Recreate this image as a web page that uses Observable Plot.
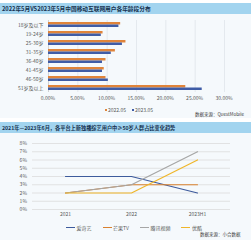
<!DOCTYPE html>
<html><head><meta charset="utf-8">
<script src="https://cdn.jsdelivr.net/npm/d3@7"></script>
<script src="https://cdn.jsdelivr.net/npm/@observablehq/plot@0.6"></script>
<style>
html,body{margin:0;padding:0;background:#fff;}
body{width:251px;height:240px;position:relative;overflow:hidden;font-family:"Noto Sans CJK SC","Noto Sans",sans-serif;}
.panel{position:absolute;left:0;width:251px;background:#f5f9fc;}
.title{position:absolute;left:0;width:251px;height:11px;background:#a2d4ef;color:#16324f;font-weight:bold;line-height:11px;padding-left:2px;box-sizing:border-box;white-space:nowrap;}
.chart{position:absolute;left:0;width:251px;}
.legend{position:absolute;font-size:5px;line-height:7px;color:#595959;display:flex;align-items:center;white-space:nowrap;}
.item{display:flex;align-items:center;}
.src{position:absolute;font-size:4.5px;line-height:6px;color:#404040;white-space:nowrap;}
.tick{position:absolute;font-size:5px;line-height:6px;color:#595959;white-space:nowrap;z-index:5;}
</style></head><body>
<div class="panel" style="top:3px;height:115px"></div>
<div class="panel" style="top:122px;height:118px"></div>
<div class="title" style="top:3px;font-size:5.7px">2022年5月VS2023年5月中国移动互联网用户各年龄段分布</div>
<div class="title" style="top:122px;font-size:5.2px">2021年—2023年6月，各平台上新独播综艺用户中≥50岁人群占比变化趋势</div>
<div id="l1" class="legend" style="top:106px;left:105px"></div>
<div class="src" style="top:111px;left:195px">数据来源：QuestMobile</div>
<div id="l2" class="legend" style="top:224px;left:66px"></div>
<div class="src" style="top:231px;left:200px">数据来源：小合数据</div>
<div id="c1" class="chart" style="top:14px"></div>
<div id="c2" class="chart" style="top:134px"></div>
<div id="ticks"></div>
<script>
// ---- Top chart data ----
const ageGroups = ["18岁及以下","19-24岁","25-30岁","31-35岁","36-40岁","41-45岁","46-50岁","51岁及以上"];
const share2022 = [0.123,0.093,0.132,0.114,0.098,0.095,0.098,0.234];
const share2023 = [0.120,0.090,0.126,0.107,0.092,0.092,0.102,0.262];
const barSeries = ["2022.05","2023.05"];
const barColors = ["#e0843a","#3f5ca6"];
const shareTicks = [0,0.05,0.10,0.15,0.20,0.25,0.30];
const shareTickLabels = ["0.00%","5.00%","10.00%","15.00%","20.00%","25.00%","30.00%"];

// ---- Bottom chart data ----
const periods = ["2021","2022","2023H1"];
const platforms = ["爱奇艺","芒果TV","腾讯视频","优酷"];
const iqiyi = [0.04,0.04,0.02];
const mango = [0.02,0.03,0.03];
const tencent = [0.02,0.03,0.07];
const youku = [0.02,0.02,0.06];
const lineColors = ["#3d5b9c","#d9812f","#a6a6a6","#efb62a"];
const pctTicks = [0,0.01,0.02,0.03,0.04,0.05,0.06,0.07,0.08];
const pctTickLabels = ["0%","1%","2%","3%","4%","5%","6%","7%","8%"];

const font = '"Noto Sans CJK SC","Noto Sans",sans-serif';
const axisInk = "#595959";

const bars2022 = ageGroups.map((a,i)=>({age:a, series:barSeries[0], v:share2022[i]}));
const bars2023 = ageGroups.map((a,i)=>({age:a, series:barSeries[1], v:share2023[i]}));
const xTickData = shareTicks.map((v,i)=>({v, label:shareTickLabels[i]}));
const yTickData = pctTicks.map((v,i)=>({v, label:pctTickLabels[i]}));

const chart1 = Plot.plot({
  width:251, height:90, marginLeft:48, marginRight:27, marginTop:6, marginBottom:12,
  style:{fontSize:"5px", fontFamily:font, color:axisInk, background:"transparent", overflow:"visible"},
  x:{domain:[0,0.3], axis:null},
  y:{domain:ageGroups, paddingInner:0.45, paddingOuter:0.225, axis:null},
  color:{domain:barSeries, range:barColors},
  marks:[
    Plot.ruleX(shareTicks.slice(1), {stroke:"#dfe4ea", strokeWidth:0.8}),
    Plot.ruleX([0], {stroke:"#c8c8c8", strokeWidth:0.8}),
    Plot.barX(bars2022, {x:"v", y:"age", fill:"series", insetBottom:2.5}),
    Plot.barX(bars2023, {x:"v", y:"age", fill:"series", insetTop:2.5}),
    Plot.axisY(ageGroups, {anchor:"left", tickSize:0, tickPadding:5, fill:axisInk, fontSize:5, label:null})
  ]
});
document.getElementById("c1").appendChild(chart1);

const seriesVals = [iqiyi, mango, tencent, youku];
const lineData = platforms.flatMap((p,k)=>seriesVals[k].map((v,i)=>({platform:p, period:periods[i], v})));

const chart2 = Plot.plot({
  width:251, height:86, marginLeft:32, marginRight:21, marginTop:9, marginBottom:11,
  style:{fontSize:"5px", fontFamily:font, color:axisInk, background:"transparent", overflow:"visible"},
  x:{domain:periods, type:"point", padding:0.5, axis:null},
  y:{domain:[0,0.08], axis:null},
  color:{domain:platforms, range:lineColors},
  marks:[
    Plot.ruleY(pctTicks, {stroke:"#dcdcdc", strokeWidth:0.8}),
    Plot.line(lineData, {x:"period", y:"v", stroke:"platform", z:"platform", strokeWidth:1.2}),
    Plot.axisX(periods, {anchor:"bottom", tickSize:0, tickPadding:3, fill:axisInk, fontSize:5, label:null})
  ]
});
document.getElementById("c2").appendChild(chart2);

// numeric tick labels placed through the charts' own scales
const tickBox = document.getElementById("ticks");
const sx1 = chart1.scale("x");
xTickData.forEach(d=>{
  const t = document.createElement("div"); t.className="tick"; t.textContent = d.label;
  t.style.left = sx1.apply(d.v) + "px";
  t.style.top = (14 + 90 - 12 + 3) + "px";
  t.style.transform = "translateX(-50%)";
  tickBox.appendChild(t);
});
const sy2 = chart2.scale("y");
yTickData.forEach(d=>{
  const t = document.createElement("div"); t.className="tick"; t.textContent = d.label;
  t.style.right = (251 - 32 + 5) + "px";
  t.style.top = (134 + sy2.apply(d.v) - 3) + "px";
  tickBox.appendChild(t);
});

// legends
const l1 = document.getElementById("l1");
barSeries.forEach((s,i)=>{
  const it = document.createElement("div"); it.className="item"; it.style.marginRight="6px";
  const sw = document.createElement("span"); sw.style.cssText=`display:inline-block;width:2px;height:2px;background:${barColors[i]};margin-right:1px`;
  it.appendChild(sw); it.appendChild(document.createTextNode(s)); l1.appendChild(it);
});
const l2 = document.getElementById("l2");
platforms.forEach((p,i)=>{
  const it = document.createElement("div"); it.className="item"; it.style.marginRight="11px";
  const sw = document.createElement("span"); sw.style.cssText=`display:inline-block;width:9px;height:1.2px;background:${lineColors[i]};margin-right:1.5px`;
  it.appendChild(sw); it.appendChild(document.createTextNode(p)); l2.appendChild(it);
});
</script>
</body></html>
